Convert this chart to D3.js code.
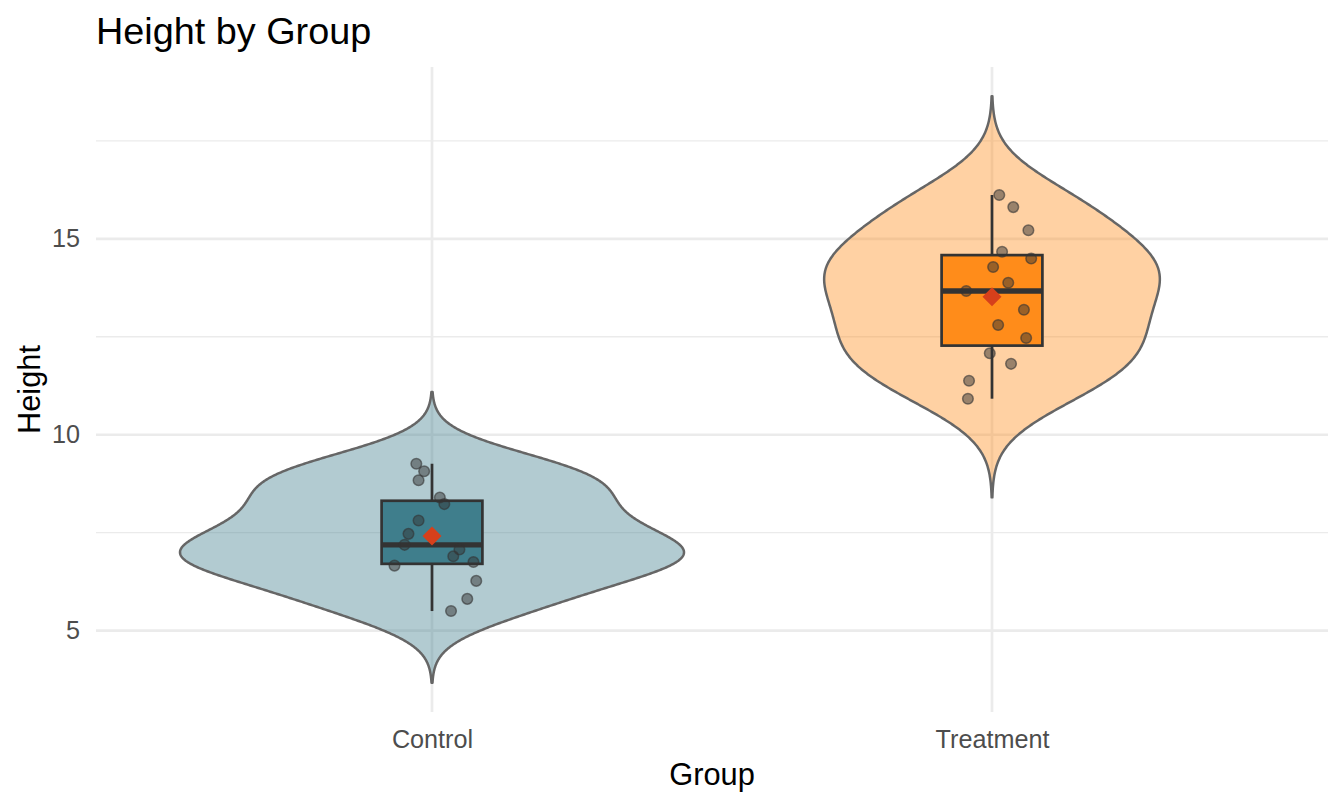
<!DOCTYPE html>
<html>
<head>
	<meta http-equiv="Content-Type" content="text/html;charset=UTF-8">
	<title>Height by Group</title>
	<style>
		body { margin: 0; background: #fff; }
		text { font-family: "Liberation Sans", Arial, sans-serif; }
	</style>
</head>
<body>
	<div class="drawing"></div>

	<script src="https://d3js.org/d3.v7.min.js"></script>
	<script type="text/javascript">
		var w = 1344;
		var h = 806;

		/* data */
		var groups = ["Control", "Treatment"];
		var controlHeight = [9.26, 9.07, 8.84, 8.40, 8.23, 7.81, 7.47, 7.19, 7.07, 6.90, 6.75, 6.66, 6.27, 5.81, 5.50];
		var treatmentHeight = [16.12, 15.81, 15.22, 14.67, 14.50, 14.28, 13.88, 13.67, 13.19, 12.80, 12.47, 12.08, 11.81, 11.38, 10.92];
		/* horizontal jitter of each point, in category units */
		var controlJitter = [-0.028, -0.014, -0.024, 0.014, 0.022, -0.024, -0.042, -0.049, 0.049, 0.038, 0.074, -0.067, 0.079, 0.063, 0.034];
		var treatmentJitter = [0.013, 0.038, 0.065, 0.018, 0.070, 0.002, 0.029, -0.046, 0.057, 0.011, 0.061, -0.004, 0.034, -0.041, -0.043];
		var yTicks = [5, 10, 15];
		var yMinorTicks = [7.5, 12.5, 17.5];
		var groupColors = ["#3F7E8C", "#FF8C1A"];

		var series = [
			{ name: groups[0], values: controlHeight, jitter: controlJitter, color: groupColors[0] },
			{ name: groups[1], values: treatmentHeight, jitter: treatmentJitter, color: groupColors[1] }
		];

		var pLeft = 96, pRight = 1328, pTop = 67, pBottom = 712;

		/* kde like R density(), bw = nrd0, cut = 3, n = 512 */
		function stats(vals) {
			var s = vals.slice().sort(d3.ascending);
			var q1 = d3.quantile(s, 0.25), med = d3.quantile(s, 0.5), q3 = d3.quantile(s, 0.75);
			var iqr = q3 - q1;
			var bw = 0.9 * Math.min(d3.deviation(s), iqr / 1.34) * Math.pow(s.length, -0.2);
			var lo = q1 - 1.5 * iqr, hi = q3 + 1.5 * iqr;
			return {
				q1: q1, med: med, q3: q3, mean: d3.mean(s), bw: bw,
				wlo: d3.min(s.filter(function(v){ return v >= lo; })),
				whi: d3.max(s.filter(function(v){ return v <= hi; })),
				from: s[0] - 3 * bw, to: s[s.length - 1] + 3 * bw
			};
		}
		series.forEach(function(g) {
			g.st = stats(g.values);
			var n = g.values.length, bw = g.st.bw;
			g.dens = d3.range(512).map(function(i) {
				var y = g.st.from + (g.st.to - g.st.from) * i / 511;
				var f = d3.sum(g.values, function(v) {
					var u = (y - v) / bw;
					return Math.exp(-0.5 * u * u) / Math.sqrt(2 * Math.PI);
				}) / (n * bw);
				return { y: y, d: f };
			});
		});
		var maxDens = d3.max(series, function(g){ return d3.max(g.dens, function(p){ return p.d; }); });

		var yLo = d3.min(series, function(g){ return g.st.from; });
		var yHi = d3.max(series, function(g){ return g.st.to; });
		var pad = (yHi - yLo) * 0.05;

		var YScale = d3.scaleLinear().domain([yLo - pad, yHi + pad]).range([pBottom, pTop]);
		var XScale = d3.scalePoint().domain(groups).range([pLeft, pRight]).padding(0.6);
		var step = XScale.step();

		var SVG = d3.select("div.drawing").append("svg")
			.attr("width", w)
			.attr("height", h);

		/* grid */
		var grid = SVG.append("g");
		grid.selectAll("line.minor").data(yMinorTicks).enter().append("line")
			.attr("x1", pLeft).attr("x2", pRight)
			.attr("y1", function(d){ return YScale(d); }).attr("y2", function(d){ return YScale(d); })
			.attr("stroke", "#ebebeb").attr("stroke-width", 1.35);
		grid.selectAll("line.major").data(yTicks).enter().append("line")
			.attr("x1", pLeft).attr("x2", pRight)
			.attr("y1", function(d){ return YScale(d); }).attr("y2", function(d){ return YScale(d); })
			.attr("stroke", "#ebebeb").attr("stroke-width", 2.7);
		grid.selectAll("line.vert").data(groups).enter().append("line")
			.attr("x1", function(d){ return XScale(d); }).attr("x2", function(d){ return XScale(d); })
			.attr("y1", pTop).attr("y2", pBottom)
			.attr("stroke", "#ebebeb").attr("stroke-width", 2.7);

		/* violins */
		series.forEach(function(g) {
			var cx = XScale(g.name);
			var area = d3.area()
				.y(function(p){ return YScale(p.y); })
				.x0(function(p){ return cx - p.d / maxDens * 0.45 * step; })
				.x1(function(p){ return cx + p.d / maxDens * 0.45 * step; });
			SVG.append("path")
				.datum(g.dens)
				.attr("d", area)
				.attr("fill", g.color).attr("fill-opacity", 0.4)
				.attr("stroke", "#666666").attr("stroke-width", 2.5)
				.attr("stroke-linejoin", "round");
		});

		/* boxplots */
		var bw2 = 0.09 * step;
		series.forEach(function(g) {
			var cx = XScale(g.name), st = g.st;
			var box = SVG.append("g").attr("stroke", "#333333").attr("stroke-width", 2.7);
			box.append("line").attr("x1", cx).attr("x2", cx)
				.attr("y1", YScale(st.q3)).attr("y2", YScale(st.whi));
			box.append("line").attr("x1", cx).attr("x2", cx)
				.attr("y1", YScale(st.q1)).attr("y2", YScale(st.wlo));
			box.append("rect")
				.attr("x", cx - bw2).attr("width", 2 * bw2)
				.attr("y", YScale(st.q3)).attr("height", YScale(st.q1) - YScale(st.q3))
				.attr("fill", g.color);
			box.append("line").attr("x1", cx - bw2).attr("x2", cx + bw2)
				.attr("y1", YScale(st.med)).attr("y2", YScale(st.med))
				.attr("stroke-width", 5.4);
		});

		/* jittered points */
		series.forEach(function(g) {
			SVG.append("g").selectAll("circle")
				.data(g.values).enter().append("circle")
				.attr("cx", function(d, i){ return XScale(g.name) + g.jitter[i] * step; })
				.attr("cy", function(d){ return YScale(d); })
				.attr("r", 5.3)
				.attr("fill", "#333333").attr("fill-opacity", 0.5)
				.attr("stroke", "#333333").attr("stroke-opacity", 0.6).attr("stroke-width", 1.5);
		});

		/* means */
		SVG.append("g").selectAll("path")
			.data(series).enter().append("path")
			.attr("d", d3.symbol().type(d3.symbolDiamond2).size(230))
			.attr("transform", function(g){ return "translate(" + XScale(g.name) + "," + YScale(g.st.mean) + ")"; })
			.attr("fill", "#D6401B");

		/* axes */
		var YAxis = d3.axisLeft(YScale).tickValues(yTicks).tickSize(0).tickPadding(16);
		var ya = SVG.append("g").attr("transform", "translate(" + pLeft + ",0)").call(YAxis);
		ya.select(".domain").remove();
		ya.selectAll("text").attr("font-size", 25.2).attr("fill", "#4d4d4d")
			.attr("font-family", "Liberation Sans, Arial, sans-serif");

		var XAxis = d3.axisBottom(XScale).tickSize(0).tickPadding(18.5);
		var xa = SVG.append("g").attr("transform", "translate(0," + pBottom + ")").call(XAxis);
		xa.select(".domain").remove();
		xa.selectAll("text").attr("font-size", 25.2).attr("fill", "#4d4d4d")
			.attr("font-family", "Liberation Sans, Arial, sans-serif");

		/* titles */
		SVG.append("text").attr("x", pLeft).attr("y", 43.5)
			.attr("font-size", 37.8).attr("fill", "#000").text("Height by Group");
		SVG.append("text").attr("x", (pLeft + pRight) / 2).attr("y", 785)
			.attr("text-anchor", "middle").attr("font-size", 30.8).attr("fill", "#000").text("Group");
		SVG.append("text")
			.attr("transform", "translate(40," + ((pTop + pBottom) / 2) + ") rotate(-90)")
			.attr("text-anchor", "middle").attr("font-size", 30.8).attr("fill", "#000").text("Height");
	</script>
</body>
</html>
